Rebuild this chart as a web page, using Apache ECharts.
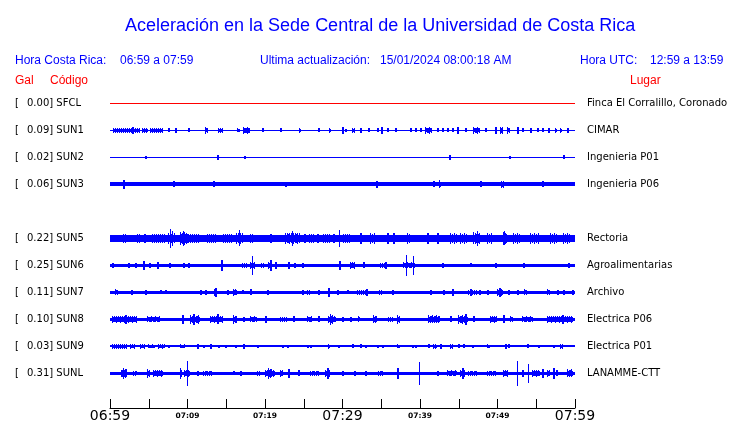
<!DOCTYPE html>
<html>
<head>
<meta charset="utf-8">
<script src="https://cdn.jsdelivr.net/npm/echarts@6/dist/echarts.min.js"></script>
<style>html,body{margin:0;padding:0;background:#fff}#c{width:740px;height:423px}</style>
</head>
<body>
<div id="c"></div>
<script>
// ---- Data ----
const chartTitle = 'Aceleración en la Sede Central de la Universidad de Costa Rica';
const horaCR = '06:59 a 07:59';
const horaUTC = '12:59 a 13:59';
const ultimaAct = '15/01/2024 08:00:18 AM';

const stationCodes = ['SFCL', 'SUN1', 'SUN2', 'SUN3', 'SUN5', 'SUN6', 'SUN7', 'SUN8', 'SUN9', 'SUNL'];
const stationNames = ['Finca El Corralillo, Coronado', 'CIMAR', 'Ingenieria P01', 'Ingenieria P06', 'Rectoria',
  'Agroalimentarias', 'Archivo', 'Electrica P06', 'Electrica P01', 'LANAMME-CTT'];
const stationPeakGal = [0.00, 0.09, 0.02, 0.06, 0.22, 0.25, 0.11, 0.10, 0.03, 0.31];
const stationRows = [0, 1, 2, 3, 5, 6, 7, 8, 9, 10];

// time axis: minutes after 06:59
const tickMinutes = [0, 10, 20, 30, 40, 50, 60];
const tickLabels = ['06:59', '07:09', '07:19', '07:29', '07:39', '07:49', '07:59'];
const majorTickMinutes = [0, 30, 60];

// envelope segments: [start minute, end minute, half amplitude (Gal)]
const sfcl = [[0, 60, 0]];
const sun1 = [[0, 60, 0], [0.4, 3.9, .048], [2.8, 3.0, .071], [4.1, 4.9, .048], [5.2, 6.8, .048], [7.5, 7.5, .036],
  [8.4, 8.4, .048], [10.1, 10.1, .036], [12.3, 12.6, .060], [13.9, 14.6, .048], [16.4, 16.8, .036], [17.2, 18.0, .064],
  [19.6, 19.6, .036], [21.9, 22.0, .036], [24.4, 24.6, .048], [26.8, 26.8, .036], [28.3, 28.5, .048],
  [29.9, 29.9, .071], [30.3, 30.3, .024], [31.2, 31.6, .048], [32.2, 32.4, .048], [33.3, 33.3, .036], [34.4, 34.4, .036],
  [35.0, 35.1, .076], [35.7, 35.7, .036], [36.8, 36.8, .036], [38.7, 38.7, .036], [39.4, 39.4, .036], [40.0, 40.0, .036],
  [40.6, 41.5, .060], [42.2, 42.2, .036], [42.8, 42.8, .036], [43.5, 43.5, .036], [44.1, 44.1, .036], [44.8, 44.9, .060],
  [45.8, 45.8, .036], [46.8, 47.7, .060], [48.4, 48.4, .036], [49.7, 49.7, .071], [50.3, 50.7, .071], [51.2, 51.6, .060],
  [52.5, 52.6, .060], [53.2, 53.2, .036], [54.2, 54.2, .048], [55.1, 55.1, .036], [55.7, 55.7, .036], [56.5, 56.5, .048],
  [57.4, 57.7, .048], [58.1, 58.3, .048], [59.0, 59.1, .048]];
const sun2 = [[0, 60, 0], [4.5, 4.5, .024], [13.8, 13.8, .048], [17.3, 17.3, .024], [43.7, 43.8, .048],
  [51.5, 51.5, .024], [58.4, 58.4, .036]];
const sun3 = [[0, 60, .036], [1.7, 1.7, .095], [8.1, 8.1, .060], [13.3, 13.3, .060], [22.6, 22.6, .050],
  [34.3, 34.3, .071], [41.7, 41.7, .060], [42.4, 42.7, .083], [47.7, 47.7, .060], [50.4, 50.9, .071], [55.7, 55.7, .060]];
const sun5 = [[0, 60, .071], [1.7, 2.1, .105], [3.5, 3.9, .105], [4.4, 4.4, .105], [5.4, 6.1, .105], [6.2, 7.2, .105],
  [7.5, 8.4, .125], [7.7, 7.8, .214], [8.0, 8.0, .167], [9.0, 10.1, .143], [9.4, 9.4, .167], [10.1, 11.6, .105],
  [12.5, 13.8, .105], [14.6, 15.9, .105], [16.3, 17.2, .125], [16.6, 16.7, .179], [18.1, 18.5, .105], [20.6, 20.6, .105],
  [22.6, 24.5, .125], [23.5, 23.7, .160], [25.0, 25.0, .105], [25.7, 26.3, .105], [26.7, 26.7, .105], [27.5, 28.4, .105],
  [28.8, 28.8, .105], [29.5, 29.6, .190], [30.1, 31.0, .105], [32.3, 32.3, .110], [33.5, 34.2, .110], [35.7, 35.7, .110],
  [36.5, 36.5, .110], [38.3, 38.7, .110], [40.9, 40.9, .110], [42.2, 42.2, .110], [43.9, 44.8, .115], [45.2, 46.1, .115],
  [46.8, 47.7, .130], [47.4, 47.6, .167], [48.6, 49.4, .115], [50.7, 51.2, .140], [50.8, 50.8, .155], [52.0, 52.9, .110],
  [54.2, 55.5, .115], [56.8, 57.7, .115], [58.5, 59.4, .110]];
const sun6 = [[0, 60, .024], [0.3, 0.3, .048], [2.3, 2.3, .048], [3.2, 3.2, .048], [4.3, 4.3, .095], [5.0, 5.0, .048],
  [6.1, 6.1, .071], [6.2, 6.5, .048], [7.6, 7.6, .048], [9.4, 9.4, .048], [10.1, 10.1, .048], [14.3, 14.3, .119],
  [17.0, 17.7, .048], [18.1, 18.7, .071], [18.3, 18.3, .214], [19.5, 20.0, .048], [20.4, 20.9, .071], [20.6, 20.6, .119],
  [21.3, 21.3, .071], [23.0, 23.0, .071], [23.7, 23.7, .048], [24.8, 24.8, .048], [29.5, 29.5, .095],
  [31.0, 31.6, .071], [32.6, 32.6, .060], [34.8, 35.7, .048], [35.5, 35.5, .071], [37.8, 39.4, .060], [38.2, 38.2, .238],
  [39.1, 39.1, .214], [42.8, 42.8, .048], [46.5, 46.5, .036], [49.7, 49.7, .048], [53.3, 53.3, .048], [59.1, 59.1, .048]];
const sun7 = [[0, 60, .030], [0.6, 1.0, .060], [2.7, 2.7, .048], [4.5, 4.5, .048], [6.5, 6.5, .036], [7.1, 7.1, .036],
  [11.6, 11.6, .048], [12.3, 12.3, .048], [13.4, 13.8, .071], [13.5, 13.5, .095], [15.1, 15.1, .048], [15.9, 16.4, .071],
  [17.0, 17.0, .036], [18.1, 18.1, .060], [20.3, 20.3, .048], [24.8, 24.8, .048], [25.4, 25.9, .048], [26.8, 26.8, .048],
  [28.1, 28.1, .095], [29.3, 29.3, .048], [30.6, 30.6, .036], [31.9, 33.2, .048], [33.0, 33.0, .071], [34.7, 35.1, .048],
  [36.4, 36.4, .048], [41.3, 41.3, .048], [43.0, 43.0, .048], [44.1, 44.1, .071], [46.2, 47.4, .048], [46.5, 46.5, .071],
  [47.6, 47.6, .048], [48.6, 48.6, .048], [49.9, 50.7, .071], [50.2, 50.2, .095], [51.4, 51.4, .048], [52.5, 52.5, .048],
  [53.4, 53.8, .060], [56.4, 56.8, .060], [57.7, 57.7, .048], [58.5, 58.5, .048], [59.6, 59.6, .048]];
const sun8 = [[0, 60, .030], [0.3, 3.5, .071], [1.9, 1.9, .095], [4.8, 6.5, .060], [9.3, 9.4, .095], [10.3, 11.6, .095],
  [10.7, 10.7, .119], [12.9, 14.6, .071], [13.8, 13.8, .107], [15.9, 16.4, .095], [17.2, 17.2, .048], [18.1, 19.0, .060],
  [20.0, 20.0, .071], [21.9, 22.8, .048], [23.6, 23.6, .060], [25.4, 26.1, .060], [26.8, 26.8, .060], [28.1, 29.2, .071],
  [28.4, 28.8, .119], [29.9, 29.9, .048], [31.0, 31.0, .048], [32.0, 32.3, .060], [33.9, 34.5, .083], [35.9, 36.5, .048],
  [37.0, 37.4, .095], [41.0, 42.6, .083], [43.9, 43.9, .060], [44.9, 46.2, .095], [45.8, 45.8, .119], [46.8, 46.8, .060],
  [49.0, 49.9, .071], [50.7, 50.7, .083], [51.6, 52.0, .060], [53.2, 54.6, .060], [56.4, 59.7, .071], [58.3, 58.3, .095]];
const sun9 = [[0, 60, .012], [0.3, 2.2, .048], [2.6, 3.2, .040], [3.9, 4.5, .040], [4.9, 5.8, .036], [6.2, 7.1, .040],
  [7.5, 7.7, .031], [9.0, 9.7, .036], [11.2, 11.2, .048], [12.0, 12.0, .031], [12.9, 12.9, .048], [13.9, 13.9, .031],
  [14.8, 14.8, .031], [16.1, 16.1, .031], [17.2, 17.2, .048], [19.0, 19.0, .024], [22.2, 22.2, .031], [22.8, 22.8, .031],
  [25.4, 25.4, .031], [25.8, 25.8, .031], [28.1, 28.4, .048], [29.4, 29.4, .031], [31.2, 31.2, .036], [32.3, 32.3, .036],
  [32.9, 32.9, .031], [34.5, 34.5, .031], [35.1, 35.1, .031], [37.0, 37.4, .036], [39.0, 39.0, .031], [39.4, 39.4, .031],
  [41.0, 41.0, .036], [41.7, 42.2, .048], [42.6, 42.6, .048], [43.9, 44.3, .048], [44.9, 44.9, .036], [45.5, 45.5, .036],
  [46.7, 46.7, .031], [48.6, 49.0, .036], [51.0, 51.0, .048], [51.4, 51.4, .036], [53.8, 53.8, .036], [55.2, 55.2, .031],
  [57.2, 57.2, .031], [58.1, 58.5, .048]];
const sunl = [[0, 60, .030], [1.4, 1.4, .071], [1.7, 2.2, .119], [3.0, 3.5, .048], [4.8, 5.2, .095], [5.5, 6.8, .071],
  [9.0, 9.3, .119], [9.5, 10.3, .071], [9.9, 9.9, .293], [11.2, 11.2, .048], [12.0, 13.3, .048], [15.9, 15.9, .036],
  [16.8, 16.8, .048], [19.0, 19.4, .048], [20.0, 21.3, .071], [20.4, 20.9, .119], [21.9, 22.3, .071], [23.0, 23.0, .095],
  [24.3, 24.3, .060], [25.8, 27.1, .048], [27.7, 28.4, .071], [28.0, 28.0, .119], [29.9, 29.9, .048], [31.5, 31.6, .048],
  [32.9, 32.9, .048], [34.6, 35.2, .048], [37.0, 37.0, .119], [39.9, 39.9, .262], [42.2, 42.2, .048], [43.5, 44.8, .060],
  [45.2, 45.8, .071], [45.4, 45.4, .119], [46.2, 47.4, .048], [48.6, 49.9, .048], [50.7, 51.4, .071], [52.5, 52.5, .286],
  [53.2, 53.2, .071], [53.9, 53.9, .214], [54.5, 55.5, .071], [55.7, 55.7, .095], [56.4, 56.8, .071], [57.2, 57.2, .119],
  [57.5, 57.5, .060], [59.0, 59.7, .083]];
const stationTraces = [sfcl, sun1, sun2, sun3, sun5, sun6, sun7, sun8, sun9, sunl];

// ---- Style ----
const BLUE = '#0000ff', RED = '#ff0000';
const GAIN = 42; // px per Gal
const COMB = [1, 0.6, 0.85, 0.7]; // drawing texture for wide bursts
const traceColors = stationCodes.map((c, i) => i === 0 ? RED : BLUE);
const FONT_HDR = 'Liberation Sans, Arial, sans-serif';
const FONT_LBL = 'DejaVu Sans, sans-serif';

const chart = echarts.init(document.getElementById('c'), null, {renderer: 'canvas'});

function rowIndex(v) {
  const r = Math.round(v);
  if (Math.abs(v - r) > 1e-6) return -1;
  return stationRows.indexOf(r);
}

function bar(x, w, cy, h, color) {
  const yTop = Math.round(cy - h);
  const yBot = Math.round(cy + h) + 1;
  return {type: 'rect', shape: {x: x, y: yTop, width: w, height: yBot - yTop}, style: {fill: color}};
}

function renderer(row, color) {
  return function (params, api) {
    const t0 = api.value(0), t1 = api.value(1), a = api.value(2);
    const p0 = api.coord([t0, row]);
    const p1 = api.coord([t1, row]);
    const h = a * GAIN;
    const x0 = Math.round(p0[0]);
    const isBase = (t1 - t0) >= 59;
    if (isBase) {
      return bar(x0, Math.round(p1[0]) - x0, p0[1], h, color);
    }
    const x1 = Math.round(p1[0]);
    if (x1 - x0 < 2) {
      return bar(x0, h >= 6 ? 1 : 2, p0[1], h, color);
    }
    const children = [];
    for (let x = x0; x < x1; x++) {
      children.push(bar(x, 1, p0[1], h * COMB[(x - x0) % COMB.length], color));
    }
    return {type: 'group', children: children};
  };
}

const series = stationTraces.map((tr, i) => ({
  type: 'custom',
  name: stationCodes[i],
  clip: false,
  silent: true,
  animation: false,
  encode: {x: [0, 1], y: 2},
  renderItem: renderer(stationRows[i], traceColors[i]),
  data: tr
}));

const yBase = {
  type: 'value', inverse: true, min: -1, max: 11.3, interval: 1,
  axisLine: {show: false}, axisTick: {show: false}, splitLine: {show: false}
};

const hdr = (x, y, text, color) => ({
  type: 'text', left: x, top: y,
  style: {text: text, fill: color, font: '12px ' + FONT_HDR}
});

chart.setOption({
  animation: false,
  backgroundColor: '#ffffff',
  title: {
    text: chartTitle, left: 120, top: 12,
    textStyle: {color: BLUE, fontSize: 18, fontWeight: 'normal', fontFamily: FONT_HDR}
  },
  graphic: [
    hdr(15, 55, 'Hora Costa Rica:', BLUE),
    hdr(120, 55, horaCR, BLUE),
    hdr(260, 55, 'Ultima actualización:', BLUE),
    hdr(380, 55, ultimaAct, BLUE),
    hdr(580, 55, 'Hora UTC:', BLUE),
    hdr(650, 55, horaUTC, BLUE),
    hdr(15, 75, 'Gal', RED),
    hdr(50, 75, 'Código', RED),
    hdr(630, 75, 'Lugar', RED)
  ],
  grid: {left: 110, right: 165, top: 76, bottom: 15, containLabel: false},
  xAxis: {
    type: 'value', min: 0, max: 60, interval: 5, position: 'bottom',
    axisLine: {show: true, onZero: false, lineStyle: {color: '#000', width: 1}},
    axisTick: {show: true, inside: true, length: 9, lineStyle: {color: '#000', width: 1}},
    splitLine: {show: false},
    axisLabel: {
      show: true, margin: 2, interval: 0, showMinLabel: true, showMaxLabel: true,
      formatter: function (v) {
        const i = tickMinutes.indexOf(Math.round(v));
        if (i < 0 || Math.abs(v - tickMinutes[i]) > 1e-6) return '';
        return majorTickMinutes.indexOf(tickMinutes[i]) >= 0 ? '{big|' + tickLabels[i] + '}' : '{small|' + tickLabels[i] + '}';
      },
      rich: {
        big: {fontSize: 14, lineHeight: 12, color: '#000', fontFamily: FONT_LBL},
        small: {fontSize: 7.5, lineHeight: 12, color: '#000', fontWeight: 'bold', fontFamily: FONT_LBL}
      }
    }
  },
  yAxis: [
    Object.assign({}, yBase, {
      position: 'left',
      axisLabel: {
        show: true, align: 'left', margin: 95, color: '#000',
        formatter: function (v) {
          const i = rowIndex(v);
          if (i < 0) return '';
          return '{a|[}{b|' + stationPeakGal[i].toFixed(2) + '] ' + stationCodes[i] + '}';
        },
        rich: {
          a: {width: 12, fontSize: 10, fontFamily: FONT_LBL, color: '#000'},
          b: {fontSize: 10, fontFamily: FONT_LBL, color: '#000'}
        }
      }
    }),
    Object.assign({}, yBase, {
      position: 'right',
      axisLabel: {
        show: true, align: 'left', margin: 12, color: '#000', fontSize: 10, fontFamily: FONT_LBL,
        formatter: function (v) {
          const i = rowIndex(v);
          return i < 0 ? '' : stationNames[i];
        }
      }
    })
  ],
  series: series
});
</script>
</body>
</html>
